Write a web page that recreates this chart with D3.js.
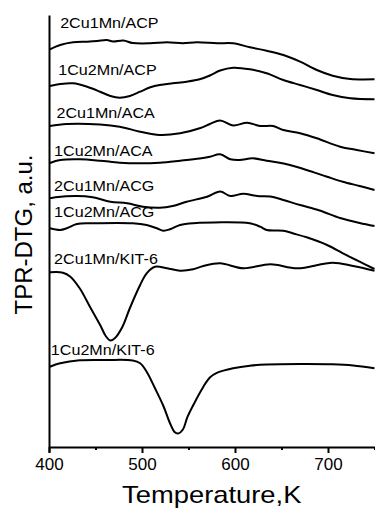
<!DOCTYPE html>
<html>
<head>
<meta charset="utf-8">
<script src="https://cdn.jsdelivr.net/npm/d3@7"></script>
<style>
  body { margin: 0; background: #fff; }
  text { font-family: Arial, "Liberation Sans", sans-serif; fill: #000; }
</style>
</head>
<body>
<div id="chart"></div>
<script>
// TPR-DTG curves, [temperature K, signal a.u. (stacked)]
var cu2mn1ACP = [[401,397.7],[412,402],[426,404.7],[441,405.3],[452,406],[462,407],[469,405.5],[480,406.5],[490,404],[509,403.7],[527,404.7],[544,403.7],[559,404.7],[581,403.7],[598,403.7],[616,399.7],[634,396.3],[652,392],[670,385.3],[688,377],[705,371.3],[724,368],[750,367.7]];
var cu1mn2ACP = [[401,361],[412,363],[426,363.7],[441,360.3],[455,355.3],[466,351],[476,349.3],[487,351],[498,355.3],[509,359.7],[519,362],[533,363.7],[548,365.3],[562,367.7],[573,371.5],[584,376.5],[598,379.3],[616,377.7],[634,373.7],[652,367],[670,362],[688,357],[705,352],[724,348.7],[750,347.7]];
var cu2mn1ACA = [[401,321],[419,323],[455,322.5],[476,320.3],[498,315.3],[519,312],[541,313.7],[562,318.7],[573,323],[584,326.5],[598,321.5],[613,324.3],[627,321],[641,321],[652,317],[670,313.7],[688,308.7],[713,300.3],[731,297],[750,293.7]];
var cu1mn2ACA = [[401,284],[412,287],[433,287.7],[455,286.3],[476,284.3],[498,283.7],[519,284.3],[541,286.3],[562,288.5],[573,290.3],[584,292.7],[595,287.7],[605,287],[619,288.7],[634,286.3],[648,284.3],[659,282],[677,277],[699,270.3],[716,265.3],[734,261],[750,257]];
var cu2mn1ACG = [[401,248.7],[407,249.7],[430,251],[447,249.7],[466,245.3],[484,243.7],[501,240.3],[519,239.3],[533,241],[548,245.3],[570,250.3],[584,255.5],[595,251],[609,253.3],[624,251],[638,250.5],[652,247],[670,242],[691,236.5],[713,229],[734,224],[750,221]];
var cu1mn2ACG = [[401,218.7],[412,217],[419,218.7],[430,223],[447,223.7],[490,223.7],[505,222],[516,218.7],[523,216.3],[530,217.7],[541,222],[555,223.7],[616,223.7],[627,220.3],[634,217],[652,216.3],[662,213.7],[677,209.7],[699,202],[716,193.7],[734,185.3],[750,178]];
var cu2mn1KIT = [[401,174.7],[415,174.3],[423,170.3],[433,158.7],[444,140.3],[455,122],[461,111],[466,106.5],[471,109],[479,120.3],[487,139],[498,162],[505,173.7],[514,180.3],[527,178.7],[541,176.3],[555,177.7],[566,181],[584,183.7],[609,178.7],[638,182.7],[667,178.7],[705,184.3],[727,181],[750,176.3]];
var cu1mn2KIT = [[401,80.3],[412,83.7],[433,86.7],[462,87],[490,86.5],[498,83.7],[505,75.3],[514,58.7],[523,41],[530,24],[535,15],[539,13.5],[544,17.5],[549,30.3],[559,48.7],[566,60.3],[573,69.5],[581,74.3],[598,78.7],[616,81.3],[634,82.5],[670,83],[705,82.7],[727,81.5],[750,78.7]];

var seriesList = [cu2mn1ACP, cu1mn2ACP, cu2mn1ACA, cu1mn2ACA, cu2mn1ACG, cu1mn2ACG, cu2mn1KIT, cu1mn2KIT];
var seriesNames = ["2Cu1Mn/ACP", "1Cu2Mn/ACP", "2Cu1Mn/ACA", "1Cu2Mn/ACA", "2Cu1Mn/ACG", "1Cu2Mn/ACG", "2Cu1Mn/KIT-6", "1Cu2Mn/KIT-6"];
// where each name sits: temperature and signal level of its baseline
var labelT = [412, 410, 408, 405.5, 405.5, 405.5, 405.5, 402];
var labelLevel = [418.7, 372, 328.7, 291, 256, 230.3, 183, 92];

var majorTicks = [400, 500, 600, 700];
var minorTicks = [450, 550, 650, 750];

var svgWidth = 375;
var svgHeight = 508;

var svg = d3.select("#chart")
  .append("svg")
  .attr("width", svgWidth)
  .attr("height", svgHeight);

var x = d3.scaleLinear().domain([400, 750]).range([49, 374.5]);
var y = d3.scaleLinear().domain([-5, 432]).range([452, 15]);

// x axis, ticks pointing down
var xAxis = svg.append("g")
  .attr("transform", `translate(0, ${y(0)})`)
  .call(d3.axisBottom(x).tickValues(majorTicks).tickSize(6).tickSizeOuter(0));
xAxis.select(".domain").attr("stroke-width", 2);
xAxis.selectAll(".tick line").attr("stroke-width", 2);
xAxis.selectAll(".tick text")
  .attr("y", 11)
  .style("font-size", "17px")
  .style("font-family", "Arial, 'Liberation Sans', sans-serif");

var xMinor = svg.append("g")
  .attr("transform", `translate(0, ${y(0)})`)
  .call(d3.axisBottom(x).tickValues(minorTicks).tickSize(3).tickSizeOuter(0).tickFormat(""));
xMinor.select(".domain").remove();
xMinor.selectAll(".tick line").attr("stroke-width", 2);

// y axis, no ticks
var yAxis = svg.append("g")
  .attr("transform", `translate(${x(400)}, 0)`)
  .call(d3.axisLeft(y).tickValues([]).tickSizeOuter(0));
yAxis.select(".domain").attr("stroke-width", 2);

var line = d3.line()
  .x(d => x(d[0]))
  .y(d => y(d[1]))
  .curve(d3.curveCatmullRom.alpha(0.5));

svg.append("g").selectAll("path")
  .data(seriesList)
  .enter()
  .append("path")
  .attr("d", line)
  .attr("fill", "none")
  .attr("stroke", "#000")
  .attr("stroke-width", 2)
  .attr("stroke-linejoin", "round");

// curve names
svg.append("g").selectAll("text")
  .data(seriesNames)
  .enter()
  .append("text")
  .attr("transform", (d, i) => `translate(${x(labelT[i])}, ${y(labelLevel[i])}) scale(1.15, 1)`)
  .style("font-size", "14px")
  .text(d => d);

// axis titles
svg.append("text")
  .attr("transform", `translate(${(x(400) + x(750)) / 2}, 503) scale(1.14, 1)`)
  .attr("text-anchor", "middle")
  .style("font-size", "24px")
  .text("Temperature,K");

svg.append("text")
  .attr("transform", "translate(32, 234.5) rotate(-90)")
  .attr("text-anchor", "middle")
  .style("font-size", "24px")
  .text("TPR-DTG, a.u.");
</script>
</body>
</html>
